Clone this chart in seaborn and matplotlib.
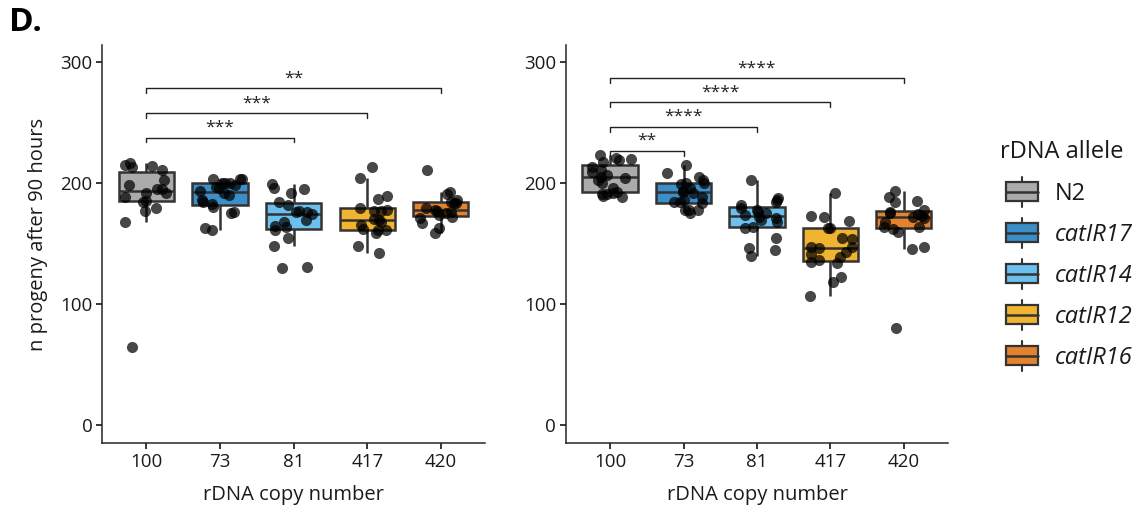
import numpy as np
import pandas as pd
import matplotlib
matplotlib.use("Agg")
import matplotlib.pyplot as plt
from matplotlib.legend_handler import HandlerBase
from matplotlib.patches import Rectangle, Patch
from matplotlib.lines import Line2D
import seaborn as sns

# Alleles, their rDNA copy numbers and fill colours
alleles = ["N2", "catIR17", "catIR14", "catIR12", "catIR16"]
copy_numbers = ["100", "73", "81", "417", "420"]
fill_colors = ["#ABABAB", "#3A8FC8", "#6CC0EE", "#F0B431", "#E3822F"]

# Progeny counts after 90 h, first replicate
rep1_n2 = [64, 168, 176.9, 179.6, 184.6, 185.1, 188.7, 191.5, 191.5, 195, 195,
           198.3, 202.5, 210.7, 213.5, 214, 214.9, 216.8]
rep1_catir17 = [161.2, 162.5, 175.5, 176.3, 180.4, 182.5, 184.6, 186, 190, 191.5,
                193, 196, 197, 198.3, 199.7, 199.7, 200.3, 203, 203, 203]
rep1_catir14 = [129.5, 130.3, 147.9, 154.3, 161.2, 163.4, 164.5, 168, 169.4, 174,
                176.3, 176.3, 177.1, 181.8, 184.6, 191.5, 195, 196.1, 198.9]
rep1_catir12 = [142.4, 147.9, 158.4, 161.2, 161.2, 161.7, 165.3, 168, 169.4, 170,
                177.1, 177.1, 177.7, 179.5, 186.5, 189.3, 203.8, 213]
rep1_catir16 = [158.4, 162.5, 166.7, 170.8, 172.2, 173.6, 175, 176.3, 177.2, 177.7,
                179, 183.2, 183.2, 184.6, 186, 190.9, 192.8, 210.7]

# Progeny counts after 90 h, second replicate
rep2_n2 = [188.7, 189.3, 190.5, 191, 191.5, 192.8, 196, 199.7, 202.5, 204, 205,
           206.6, 209.3, 211, 213.5, 217.6, 219, 220, 221, 223]
rep2_catir17 = [175, 177.7, 177.7, 178, 183, 184, 184.6, 186, 188.7, 191.5, 192.8,
                193.5, 196, 199, 200, 200, 202.5, 205.2, 208, 214.9]
rep2_catir14 = [140, 144.6, 146, 154.3, 162.5, 163.9, 168, 169.4, 171, 172.2,
                173.6, 175, 176.3, 178, 179, 181.8, 184.6, 186, 187.3, 202.5]
rep2_catir12 = [106.6, 118.5, 122.6, 134.1, 135, 136, 139.1, 141.3, 143.2, 147,
                146, 146.8, 153.4, 154.3, 162.5, 162.5, 168.9, 171.6, 172.7, 191.5]
rep2_catir16 = [80, 145.5, 147.4, 159.8, 162, 163.4, 163.9, 168, 170.8, 172.2,
                172.7, 174, 175, 176.3, 177.7, 184.6, 185.4, 188.7, 193.4]

# Significance comparisons against N2: (target copy number, stars)
rep1_tests = [("81", "***"), ("417", "***"), ("420", "**")]
rep2_tests = [("73", "**"), ("81", "****"), ("417", "****"), ("420", "****")]

y_ticks = [0, 100, 200, 300]


def tidy(series_list):
    rows = []
    for allele, cn, vals in zip(alleles, copy_numbers, series_list):
        for v in vals:
            rows.append({"allele": allele, "copy": cn, "progeny": v})
    return pd.DataFrame(rows)


rep1 = tidy([rep1_n2, rep1_catir17, rep1_catir14, rep1_catir12, rep1_catir16])
rep2 = tidy([rep2_n2, rep2_catir17, rep2_catir14, rep2_catir12, rep2_catir16])

# Fixed seed so the horizontal jitter is reproducible
np.random.seed(11)

sns.set_theme(style="ticks")
plt.rcParams["font.family"] = ["Open Sans", "DejaVu Sans"]
plt.rcParams["axes.linewidth"] = 1.1
plt.rcParams["xtick.major.width"] = 1.1
plt.rcParams["ytick.major.width"] = 1.1
plt.rcParams["xtick.major.size"] = 4
plt.rcParams["ytick.major.size"] = 4

fig = plt.figure(figsize=(11.48, 5.07), dpi=100)
ax1 = fig.add_axes([0.0891, 0.1262, 0.3334, 0.785])
ax2 = fig.add_axes([0.4930, 0.1262, 0.3328, 0.785])

palette = dict(zip(copy_numbers, fill_colors))
edge = "#333333"
text_col = "#1a1a1a"


def draw_panel(ax, df, tests, base, step):
    sns.boxplot(data=df, x="copy", y="progeny", hue="copy", order=copy_numbers,
                hue_order=copy_numbers, palette=palette, width=0.75,
                showfliers=False, showcaps=False, linecolor=edge, linewidth=1.8,
                saturation=1, legend=False, ax=ax, zorder=2)
    sns.stripplot(data=df, x="copy", y="progeny", order=copy_numbers,
                  color="black", alpha=0.72, size=8, jitter=0.3,
                  linewidth=0, ax=ax, zorder=3)
    ax.set_ylim(-15, 314)
    ax.set_xlim(-0.6, 4.6)
    ax.set_yticks(y_ticks)
    ax.set_yticklabels([str(t) for t in y_ticks])
    ax.tick_params(axis="both", labelsize=13.5, colors="black",
                   labelcolor=text_col, pad=3)
    ax.set_xlabel("rDNA copy number", fontsize=14.5, color=text_col, labelpad=10)
    sns.despine(ax=ax)
    for i, (target, stars) in enumerate(tests):
        x0 = 0
        x1 = copy_numbers.index(target)
        y = base + i * step
        ax.plot([x0, x0, x1, x1], [y - 4, y, y, y - 4], color="#222222",
                lw=1.0, zorder=4, clip_on=False)
        ax.text((x0 + x1) / 2, y + 1.5, stars, ha="center", va="bottom",
                fontsize=12.5, color="#222222")


draw_panel(ax1, rep1, rep1_tests, 237.5, 20.3)
draw_panel(ax2, rep2, rep2_tests, 226.5, 20.0)

ax1.set_ylabel("n progeny after 90 hours", fontsize=14.5, color=text_col)
ax1.yaxis.set_label_coords(-0.142, 0.525)
ax2.set_ylabel("")

fig.text(0.008, 0.956, "D.", fontsize=24, fontweight="bold", ha="left",
         va="center", color="black")


class BoxKey(HandlerBase):
    def create_artists(self, legend, orig_handle, xdescent, ydescent,
                       width, height, fontsize, trans):
        fc = orig_handle.get_facecolor()
        x0, y0 = -xdescent, -ydescent
        cx = x0 + width / 2
        cy = y0 + height / 2
        bh = height
        ext = height * 0.3
        whisker = Line2D([cx, cx], [cy - bh / 2 - ext, cy + bh / 2 + ext],
                         color=edge, lw=1.5, transform=trans)
        box = Rectangle((x0, cy - bh / 2), width, bh, facecolor=fc,
                        edgecolor=edge, lw=1.6, transform=trans)
        med = Line2D([x0, x0 + width], [cy, cy], color=edge, lw=1.8,
                     transform=trans)
        return [whisker, box, med]


# Legend title placed as figure text, keys listed beneath it
fig.text(1000 / 1148, 1 - 152 / 507, "rDNA allele", fontsize=17,
         ha="left", va="center", color=text_col)

handles = [Patch(facecolor=c) for c in fill_colors]
leg = fig.legend(handles, alleles, handler_map={Patch: BoxKey()},
                 loc="upper left", bbox_to_anchor=(1006 / 1148, 1 - 182 / 507),
                 frameon=False, fontsize=17, handlelength=1.35,
                 handleheight=0.85, labelspacing=0.72, handletextpad=0.7,
                 borderpad=0, borderaxespad=0)
for t in leg.get_texts():
    t.set_color(text_col)
    if t.get_text().startswith("cat"):
        t.set_fontstyle("italic")

fig.savefig("out.png", dpi=100)
